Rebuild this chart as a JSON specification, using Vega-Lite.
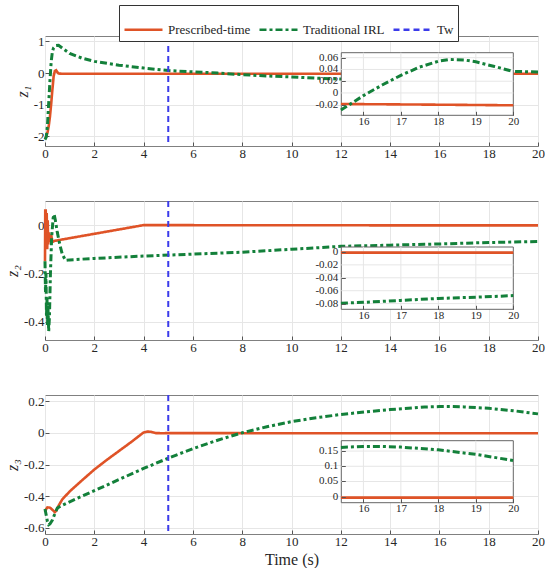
{
  "$schema": "https://vega.github.io/schema/vega-lite/v6.json",
  "padding": {"top": 4, "left": 3, "right": 0, "bottom": 0},
  "datasets": {
    "d": [
      {"p": "z1", "s": "Prescribed-time", "t": 0, "v": -2.05},
      {"p": "z1", "s": "Prescribed-time", "t": 0.05, "v": -2.0},
      {"p": "z1", "s": "Prescribed-time", "t": 0.1, "v": -1.88},
      {"p": "z1", "s": "Prescribed-time", "t": 0.15, "v": -1.68},
      {"p": "z1", "s": "Prescribed-time", "t": 0.2, "v": -1.38},
      {"p": "z1", "s": "Prescribed-time", "t": 0.25, "v": -0.98},
      {"p": "z1", "s": "Prescribed-time", "t": 0.3, "v": -0.52},
      {"p": "z1", "s": "Prescribed-time", "t": 0.35, "v": -0.1},
      {"p": "z1", "s": "Prescribed-time", "t": 0.4, "v": 0.07},
      {"p": "z1", "s": "Prescribed-time", "t": 0.45, "v": 0.09},
      {"p": "z1", "s": "Prescribed-time", "t": 0.5, "v": 0.03},
      {"p": "z1", "s": "Prescribed-time", "t": 0.55, "v": -0.015},
      {"p": "z1", "s": "Prescribed-time", "t": 0.7, "v": -0.02},
      {"p": "z1", "s": "Prescribed-time", "t": 2, "v": -0.02},
      {"p": "z1", "s": "Prescribed-time", "t": 5, "v": -0.02},
      {"p": "z1", "s": "Prescribed-time", "t": 10, "v": -0.019},
      {"p": "z1", "s": "Prescribed-time", "t": 15.4, "v": -0.0188},
      {"p": "z1", "s": "Prescribed-time", "t": 17, "v": -0.0195},
      {"p": "z1", "s": "Prescribed-time", "t": 18.5, "v": -0.0202},
      {"p": "z1", "s": "Prescribed-time", "t": 20, "v": -0.021},
      {"p": "z1", "s": "Traditional IRL", "t": 0, "v": -2.1},
      {"p": "z1", "s": "Traditional IRL", "t": 0.05, "v": -2.02},
      {"p": "z1", "s": "Traditional IRL", "t": 0.1, "v": -1.65},
      {"p": "z1", "s": "Traditional IRL", "t": 0.15, "v": -0.95},
      {"p": "z1", "s": "Traditional IRL", "t": 0.2, "v": -0.25},
      {"p": "z1", "s": "Traditional IRL", "t": 0.25, "v": 0.35},
      {"p": "z1", "s": "Traditional IRL", "t": 0.3, "v": 0.68},
      {"p": "z1", "s": "Traditional IRL", "t": 0.35, "v": 0.8},
      {"p": "z1", "s": "Traditional IRL", "t": 0.45, "v": 0.87},
      {"p": "z1", "s": "Traditional IRL", "t": 0.55, "v": 0.88},
      {"p": "z1", "s": "Traditional IRL", "t": 0.7, "v": 0.79},
      {"p": "z1", "s": "Traditional IRL", "t": 1, "v": 0.62},
      {"p": "z1", "s": "Traditional IRL", "t": 1.5, "v": 0.47},
      {"p": "z1", "s": "Traditional IRL", "t": 2, "v": 0.37},
      {"p": "z1", "s": "Traditional IRL", "t": 3, "v": 0.25},
      {"p": "z1", "s": "Traditional IRL", "t": 4, "v": 0.16},
      {"p": "z1", "s": "Traditional IRL", "t": 5, "v": 0.08},
      {"p": "z1", "s": "Traditional IRL", "t": 6, "v": 0.04},
      {"p": "z1", "s": "Traditional IRL", "t": 7, "v": 0.0},
      {"p": "z1", "s": "Traditional IRL", "t": 8, "v": -0.05},
      {"p": "z1", "s": "Traditional IRL", "t": 9, "v": -0.09},
      {"p": "z1", "s": "Traditional IRL", "t": 10, "v": -0.12},
      {"p": "z1", "s": "Traditional IRL", "t": 11, "v": -0.16},
      {"p": "z1", "s": "Traditional IRL", "t": 12, "v": -0.19},
      {"p": "z1", "s": "Traditional IRL", "t": 13, "v": -0.17},
      {"p": "z1", "s": "Traditional IRL", "t": 14, "v": -0.12},
      {"p": "z1", "s": "Traditional IRL", "t": 15, "v": -0.055},
      {"p": "z1", "s": "Traditional IRL", "t": 15.4, "v": -0.029},
      {"p": "z1", "s": "Traditional IRL", "t": 15.6, "v": -0.021},
      {"p": "z1", "s": "Traditional IRL", "t": 16, "v": -0.0045},
      {"p": "z1", "s": "Traditional IRL", "t": 16.5, "v": 0.0135},
      {"p": "z1", "s": "Traditional IRL", "t": 17, "v": 0.03},
      {"p": "z1", "s": "Traditional IRL", "t": 17.5, "v": 0.044},
      {"p": "z1", "s": "Traditional IRL", "t": 18, "v": 0.054},
      {"p": "z1", "s": "Traditional IRL", "t": 18.3, "v": 0.057},
      {"p": "z1", "s": "Traditional IRL", "t": 18.7, "v": 0.056},
      {"p": "z1", "s": "Traditional IRL", "t": 19, "v": 0.053},
      {"p": "z1", "s": "Traditional IRL", "t": 19.5, "v": 0.045},
      {"p": "z1", "s": "Traditional IRL", "t": 20, "v": 0.0366},
      {"p": "z2", "s": "Prescribed-time", "t": 0, "v": -0.15},
      {"p": "z2", "s": "Prescribed-time", "t": 0.01, "v": 0.06},
      {"p": "z2", "s": "Prescribed-time", "t": 0.03, "v": 0.06},
      {"p": "z2", "s": "Prescribed-time", "t": 0.05, "v": -0.08},
      {"p": "z2", "s": "Prescribed-time", "t": 0.07, "v": 0.05},
      {"p": "z2", "s": "Prescribed-time", "t": 0.09, "v": -0.1},
      {"p": "z2", "s": "Prescribed-time", "t": 0.11, "v": 0.02},
      {"p": "z2", "s": "Prescribed-time", "t": 0.13, "v": -0.08},
      {"p": "z2", "s": "Prescribed-time", "t": 0.16, "v": -0.03},
      {"p": "z2", "s": "Prescribed-time", "t": 0.2, "v": -0.07},
      {"p": "z2", "s": "Prescribed-time", "t": 0.25, "v": -0.04},
      {"p": "z2", "s": "Prescribed-time", "t": 0.3, "v": -0.07},
      {"p": "z2", "s": "Prescribed-time", "t": 0.4, "v": -0.065},
      {"p": "z2", "s": "Prescribed-time", "t": 1, "v": -0.054},
      {"p": "z2", "s": "Prescribed-time", "t": 2, "v": -0.036},
      {"p": "z2", "s": "Prescribed-time", "t": 3, "v": -0.018},
      {"p": "z2", "s": "Prescribed-time", "t": 4, "v": 0},
      {"p": "z2", "s": "Prescribed-time", "t": 15.4, "v": -0.001},
      {"p": "z2", "s": "Prescribed-time", "t": 20, "v": -0.001},
      {"p": "z2", "s": "Traditional IRL", "t": 0, "v": -0.15},
      {"p": "z2", "s": "Traditional IRL", "t": 0.02, "v": -0.28},
      {"p": "z2", "s": "Traditional IRL", "t": 0.04, "v": -0.2},
      {"p": "z2", "s": "Traditional IRL", "t": 0.06, "v": -0.38},
      {"p": "z2", "s": "Traditional IRL", "t": 0.08, "v": -0.3},
      {"p": "z2", "s": "Traditional IRL", "t": 0.1, "v": -0.42},
      {"p": "z2", "s": "Traditional IRL", "t": 0.12, "v": -0.34},
      {"p": "z2", "s": "Traditional IRL", "t": 0.15, "v": -0.44},
      {"p": "z2", "s": "Traditional IRL", "t": 0.18, "v": -0.38},
      {"p": "z2", "s": "Traditional IRL", "t": 0.22, "v": -0.2},
      {"p": "z2", "s": "Traditional IRL", "t": 0.27, "v": -0.05},
      {"p": "z2", "s": "Traditional IRL", "t": 0.33, "v": 0.03},
      {"p": "z2", "s": "Traditional IRL", "t": 0.37, "v": 0.045},
      {"p": "z2", "s": "Traditional IRL", "t": 0.42, "v": 0.02},
      {"p": "z2", "s": "Traditional IRL", "t": 0.5, "v": -0.03},
      {"p": "z2", "s": "Traditional IRL", "t": 0.6, "v": -0.08},
      {"p": "z2", "s": "Traditional IRL", "t": 0.7, "v": -0.12},
      {"p": "z2", "s": "Traditional IRL", "t": 0.83, "v": -0.146},
      {"p": "z2", "s": "Traditional IRL", "t": 1, "v": -0.144},
      {"p": "z2", "s": "Traditional IRL", "t": 2, "v": -0.138},
      {"p": "z2", "s": "Traditional IRL", "t": 4, "v": -0.128},
      {"p": "z2", "s": "Traditional IRL", "t": 6, "v": -0.12},
      {"p": "z2", "s": "Traditional IRL", "t": 8, "v": -0.112},
      {"p": "z2", "s": "Traditional IRL", "t": 10, "v": -0.1},
      {"p": "z2", "s": "Traditional IRL", "t": 12, "v": -0.088},
      {"p": "z2", "s": "Traditional IRL", "t": 14, "v": -0.083},
      {"p": "z2", "s": "Traditional IRL", "t": 15.4, "v": -0.0795},
      {"p": "z2", "s": "Traditional IRL", "t": 16, "v": -0.078},
      {"p": "z2", "s": "Traditional IRL", "t": 17, "v": -0.075},
      {"p": "z2", "s": "Traditional IRL", "t": 18, "v": -0.072},
      {"p": "z2", "s": "Traditional IRL", "t": 19, "v": -0.07},
      {"p": "z2", "s": "Traditional IRL", "t": 20, "v": -0.0676},
      {"p": "z3", "s": "Prescribed-time", "t": 0, "v": -0.5},
      {"p": "z3", "s": "Prescribed-time", "t": 0.05, "v": -0.48},
      {"p": "z3", "s": "Prescribed-time", "t": 0.1, "v": -0.47},
      {"p": "z3", "s": "Prescribed-time", "t": 0.2, "v": -0.472},
      {"p": "z3", "s": "Prescribed-time", "t": 0.3, "v": -0.485},
      {"p": "z3", "s": "Prescribed-time", "t": 0.4, "v": -0.5},
      {"p": "z3", "s": "Prescribed-time", "t": 0.45, "v": -0.492},
      {"p": "z3", "s": "Prescribed-time", "t": 0.55, "v": -0.46},
      {"p": "z3", "s": "Prescribed-time", "t": 0.7, "v": -0.42},
      {"p": "z3", "s": "Prescribed-time", "t": 1, "v": -0.37},
      {"p": "z3", "s": "Prescribed-time", "t": 1.5, "v": -0.3},
      {"p": "z3", "s": "Prescribed-time", "t": 2, "v": -0.232},
      {"p": "z3", "s": "Prescribed-time", "t": 2.5, "v": -0.172},
      {"p": "z3", "s": "Prescribed-time", "t": 3, "v": -0.115},
      {"p": "z3", "s": "Prescribed-time", "t": 3.5, "v": -0.058},
      {"p": "z3", "s": "Prescribed-time", "t": 4, "v": 0.002},
      {"p": "z3", "s": "Prescribed-time", "t": 4.15, "v": 0.008},
      {"p": "z3", "s": "Prescribed-time", "t": 4.3, "v": 0.006},
      {"p": "z3", "s": "Prescribed-time", "t": 4.5, "v": -0.002},
      {"p": "z3", "s": "Prescribed-time", "t": 4.8, "v": -0.003},
      {"p": "z3", "s": "Prescribed-time", "t": 5, "v": -0.002},
      {"p": "z3", "s": "Prescribed-time", "t": 10, "v": -0.003},
      {"p": "z3", "s": "Prescribed-time", "t": 15.4, "v": -0.003},
      {"p": "z3", "s": "Prescribed-time", "t": 20, "v": -0.003},
      {"p": "z3", "s": "Traditional IRL", "t": 0, "v": -0.48},
      {"p": "z3", "s": "Traditional IRL", "t": 0.05, "v": -0.52},
      {"p": "z3", "s": "Traditional IRL", "t": 0.1, "v": -0.56},
      {"p": "z3", "s": "Traditional IRL", "t": 0.15, "v": -0.58},
      {"p": "z3", "s": "Traditional IRL", "t": 0.2, "v": -0.575},
      {"p": "z3", "s": "Traditional IRL", "t": 0.3, "v": -0.55},
      {"p": "z3", "s": "Traditional IRL", "t": 0.4, "v": -0.51},
      {"p": "z3", "s": "Traditional IRL", "t": 0.5, "v": -0.475},
      {"p": "z3", "s": "Traditional IRL", "t": 0.6, "v": -0.465},
      {"p": "z3", "s": "Traditional IRL", "t": 1, "v": -0.435},
      {"p": "z3", "s": "Traditional IRL", "t": 2, "v": -0.365},
      {"p": "z3", "s": "Traditional IRL", "t": 3, "v": -0.295},
      {"p": "z3", "s": "Traditional IRL", "t": 4, "v": -0.225},
      {"p": "z3", "s": "Traditional IRL", "t": 5, "v": -0.16},
      {"p": "z3", "s": "Traditional IRL", "t": 6, "v": -0.1},
      {"p": "z3", "s": "Traditional IRL", "t": 7, "v": -0.047},
      {"p": "z3", "s": "Traditional IRL", "t": 8, "v": 0.0},
      {"p": "z3", "s": "Traditional IRL", "t": 9, "v": 0.038},
      {"p": "z3", "s": "Traditional IRL", "t": 10, "v": 0.07},
      {"p": "z3", "s": "Traditional IRL", "t": 11, "v": 0.095},
      {"p": "z3", "s": "Traditional IRL", "t": 12, "v": 0.115},
      {"p": "z3", "s": "Traditional IRL", "t": 13, "v": 0.132},
      {"p": "z3", "s": "Traditional IRL", "t": 14, "v": 0.146},
      {"p": "z3", "s": "Traditional IRL", "t": 15, "v": 0.157},
      {"p": "z3", "s": "Traditional IRL", "t": 15.4, "v": 0.162},
      {"p": "z3", "s": "Traditional IRL", "t": 16, "v": 0.165},
      {"p": "z3", "s": "Traditional IRL", "t": 16.5, "v": 0.165},
      {"p": "z3", "s": "Traditional IRL", "t": 17, "v": 0.163},
      {"p": "z3", "s": "Traditional IRL", "t": 18, "v": 0.154},
      {"p": "z3", "s": "Traditional IRL", "t": 19, "v": 0.139},
      {"p": "z3", "s": "Traditional IRL", "t": 20, "v": 0.119}
    ],
    "gx": [{"g": 16}, {"g": 17}, {"g": 18}, {"g": 19}],
    "gy1": [{"g": -0.02}, {"g": 0}, {"g": 0.02}, {"g": 0.04}, {"g": 0.06}],
    "gy2": [{"g": -0.08}, {"g": -0.06}, {"g": -0.04}, {"g": -0.02}, {"g": 0}],
    "gy3": [{"g": 0}, {"g": 0.05}, {"g": 0.1}, {"g": 0.15}]
  },
  "vconcat": [
    {
      "width": 493,
      "height": 110,
      "layer": [
        {
          "layer": [
            {
              "data": {"name": "d"},
              "transform": [{"filter": "datum.p == 'z1'"}],
              "mark": {"type": "line"},
              "encoding": {
                "x": {"field": "t", "type": "quantitative", "scale": {"domain": [0, 20], "nice": false}, "axis": {"values": [0, 2, 4, 6, 8, 10, 12, 14, 16, 18, 20], "title": null}},
                "y": {"field": "v", "type": "quantitative", "scale": {"domain": [-2.3, 1.17], "nice": false, "zero": false}, "axis": {"values": [-2, -1, 0, 1], "title": "z₁"}},
                "color": {"field": "s", "type": "nominal", "scale": {"domain": ["Prescribed-time", "Traditional IRL", "Tw"], "range": ["#DF5327", "#13803A", "#3B3BEA"]}},
                "strokeDash": {"field": "s", "type": "nominal", "scale": {"domain": ["Prescribed-time", "Traditional IRL", "Tw"], "range": [[1, 0], [7, 3, 3, 3], [6, 4]]}},
                "strokeWidth": {"field": "s", "type": "ordinal", "scale": {"domain": ["Prescribed-time", "Traditional IRL"], "range": [2.6, 3]}, "legend": null}
              }
            },
            {
              "data": {"values": [{}]},
              "mark": {"type": "rule", "strokeWidth": 2},
              "encoding": {"x": {"datum": 5}, "color": {"datum": "Tw"}, "strokeDash": {"datum": "Tw"}}
            }
          ]
        },
        {
          "layer": [
            {
              "data": {"values": [{}]},
              "mark": {"type": "rect", "fill": "white", "stroke": "#666", "strokeWidth": 1},
              "encoding": {
                "x": {"datum": 15.41, "type": "quantitative", "scale": {"domain": [15.41, 20], "range": [296.3, 468.3], "nice": false}, "axis": {"orient": "bottom", "offset": -30.7, "values": [16, 17, 18, 19, 20], "title": null, "grid": false, "labelFontSize": 11, "labelPadding": 4, "zindex": 1}},
                "x2": {"datum": 20},
                "y": {"datum": -0.038, "type": "quantitative", "scale": {"domain": [-0.038, 0.0685], "range": [79.3, 16.7], "nice": false, "zero": false}, "axis": {"orient": "left", "offset": -296.3, "values": [-0.02, 0, 0.02, 0.04, 0.06], "title": null, "grid": false, "labels": false, "zindex": 1}},
                "y2": {"datum": 0.0685}
              }
            },
            {
              "data": {"name": "gx"},
              "mark": {"type": "rule", "color": "#e6e6e6", "strokeWidth": 1},
              "encoding": {"x": {"field": "g", "type": "quantitative"}, "y": {"datum": -0.038}, "y2": {"datum": 0.0685}}
            },
            {
              "data": {"name": "gy1"},
              "mark": {"type": "rule", "color": "#e6e6e6", "strokeWidth": 1},
              "encoding": {"y": {"field": "g", "type": "quantitative"}, "x": {"datum": 15.41}, "x2": {"datum": 20}}
            },
            {
              "data": {"name": "gy1"},
              "mark": {"type": "text", "align": "right", "baseline": "middle", "dx": -3, "fontSize": 11, "font": "Liberation Serif", "color": "#262626"},
              "encoding": {"y": {"field": "g", "type": "quantitative"}, "x": {"datum": 15.41}, "text": {"field": "g", "type": "nominal"}}
            },
            {
              "data": {"name": "d"},
              "transform": [{"filter": "datum.p == 'z1' && datum.t >= 15.4"}],
              "mark": {"type": "line"},
              "encoding": {
                "x": {"field": "t", "type": "quantitative"},
                "y": {"field": "v", "type": "quantitative"},
                "color": {"field": "s", "type": "nominal"},
                "strokeDash": {"field": "s", "type": "nominal"},
                "strokeWidth": {"field": "s", "type": "ordinal", "legend": null}
              }
            }
          ]
        }
      ],
      "resolve": {"scale": {"x": "independent", "y": "independent"}, "axis": {"x": "independent", "y": "independent"}}
    },
    {
      "width": 493,
      "height": 139,
      "layer": [
        {
          "layer": [
            {
              "data": {"name": "d"},
              "transform": [{"filter": "datum.p == 'z2'"}],
              "mark": {"type": "line"},
              "encoding": {
                "x": {"field": "t", "type": "quantitative", "scale": {"domain": [0, 20], "nice": false}, "axis": {"values": [0, 2, 4, 6, 8, 10, 12, 14, 16, 18, 20], "title": null}},
                "y": {"field": "v", "type": "quantitative", "scale": {"domain": [-0.476, 0.1], "nice": false, "zero": false}, "axis": {"values": [-0.4, -0.2, 0], "title": "z₂"}},
                "color": {"field": "s", "type": "nominal"},
                "strokeDash": {"field": "s", "type": "nominal"},
                "strokeWidth": {"field": "s", "type": "ordinal", "legend": null}
              }
            },
            {
              "data": {"values": [{}]},
              "mark": {"type": "rule", "strokeWidth": 2},
              "encoding": {"x": {"datum": 5}, "color": {"datum": "Tw"}, "strokeDash": {"datum": "Tw"}}
            }
          ]
        },
        {
          "layer": [
            {
              "data": {"values": [{}]},
              "mark": {"type": "rect", "fill": "white", "stroke": "#666", "strokeWidth": 1},
              "encoding": {
                "x": {"datum": 15.41, "type": "quantitative", "scale": {"domain": [15.41, 20], "range": [296.3, 468.3], "nice": false}, "axis": {"orient": "bottom", "offset": -30.7, "values": [16, 17, 18, 19, 20], "title": null, "grid": false, "labelFontSize": 11, "labelPadding": 4, "zindex": 1}},
                "x2": {"datum": 20},
                "y": {"datum": -0.0888, "type": "quantitative", "scale": {"domain": [-0.0888, 0.0077], "range": [108.3, 46], "nice": false, "zero": false}, "axis": {"orient": "left", "offset": -296.3, "values": [-0.08, -0.06, -0.04, -0.02, 0], "title": null, "grid": false, "labels": false, "zindex": 1}},
                "y2": {"datum": 0.0077}
              }
            },
            {
              "data": {"name": "gx"},
              "mark": {"type": "rule", "color": "#e6e6e6", "strokeWidth": 1},
              "encoding": {"x": {"field": "g", "type": "quantitative"}, "y": {"datum": -0.0888}, "y2": {"datum": 0.0077}}
            },
            {
              "data": {"name": "gy2"},
              "mark": {"type": "rule", "color": "#e6e6e6", "strokeWidth": 1},
              "encoding": {"y": {"field": "g", "type": "quantitative"}, "x": {"datum": 15.41}, "x2": {"datum": 20}}
            },
            {
              "data": {"name": "gy2"},
              "mark": {"type": "text", "align": "right", "baseline": "middle", "dx": -3, "fontSize": 11, "font": "Liberation Serif", "color": "#262626"},
              "encoding": {"y": {"field": "g", "type": "quantitative"}, "x": {"datum": 15.41}, "text": {"field": "g", "type": "nominal"}}
            },
            {
              "data": {"name": "d"},
              "transform": [{"filter": "datum.p == 'z2' && datum.t >= 15.4"}],
              "mark": {"type": "line"},
              "encoding": {
                "x": {"field": "t", "type": "quantitative"},
                "y": {"field": "v", "type": "quantitative"},
                "color": {"field": "s", "type": "nominal"},
                "strokeDash": {"field": "s", "type": "nominal"},
                "strokeWidth": {"field": "s", "type": "ordinal", "legend": null}
              }
            }
          ]
        }
      ],
      "resolve": {"scale": {"x": "independent", "y": "independent"}, "axis": {"x": "independent", "y": "independent"}}
    },
    {
      "width": 493,
      "height": 139,
      "layer": [
        {
          "layer": [
            {
              "data": {"name": "d"},
              "transform": [{"filter": "datum.p == 'z3'"}],
              "mark": {"type": "line"},
              "encoding": {
                "x": {"field": "t", "type": "quantitative", "scale": {"domain": [0, 20], "nice": false}, "axis": {"values": [0, 2, 4, 6, 8, 10, 12, 14, 16, 18, 20], "title": "Time (s)", "titleFontSize": 16, "titlePadding": 3}},
                "y": {"field": "v", "type": "quantitative", "scale": {"domain": [-0.638, 0.238], "nice": false, "zero": false}, "axis": {"values": [-0.6, -0.4, -0.2, 0, 0.2], "title": "z₃"}},
                "color": {"field": "s", "type": "nominal"},
                "strokeDash": {"field": "s", "type": "nominal"},
                "strokeWidth": {"field": "s", "type": "ordinal", "legend": null}
              }
            },
            {
              "data": {"values": [{}]},
              "mark": {"type": "rule", "strokeWidth": 2},
              "encoding": {"x": {"datum": 5}, "color": {"datum": "Tw"}, "strokeDash": {"datum": "Tw"}}
            }
          ]
        },
        {
          "layer": [
            {
              "data": {"values": [{}]},
              "mark": {"type": "rect", "fill": "white", "stroke": "#666", "strokeWidth": 1},
              "encoding": {
                "x": {"datum": 15.41, "type": "quantitative", "scale": {"domain": [15.41, 20], "range": [296.3, 468.3], "nice": false}, "axis": {"orient": "bottom", "offset": -31.3, "values": [16, 17, 18, 19, 20], "title": null, "grid": false, "labelFontSize": 11, "labelPadding": 4, "zindex": 1}},
                "x2": {"datum": 20},
                "y": {"datum": -0.0197, "type": "quantitative", "scale": {"domain": [-0.0197, 0.184], "range": [107.7, 45.7], "nice": false, "zero": false}, "axis": {"orient": "left", "offset": -296.3, "values": [0, 0.05, 0.1, 0.15], "title": null, "grid": false, "labels": false, "zindex": 1}},
                "y2": {"datum": 0.184}
              }
            },
            {
              "data": {"name": "gx"},
              "mark": {"type": "rule", "color": "#e6e6e6", "strokeWidth": 1},
              "encoding": {"x": {"field": "g", "type": "quantitative"}, "y": {"datum": -0.0197}, "y2": {"datum": 0.184}}
            },
            {
              "data": {"name": "gy3"},
              "mark": {"type": "rule", "color": "#e6e6e6", "strokeWidth": 1},
              "encoding": {"y": {"field": "g", "type": "quantitative"}, "x": {"datum": 15.41}, "x2": {"datum": 20}}
            },
            {
              "data": {"name": "gy3"},
              "mark": {"type": "text", "align": "right", "baseline": "middle", "dx": -3, "fontSize": 11, "font": "Liberation Serif", "color": "#262626"},
              "encoding": {"y": {"field": "g", "type": "quantitative"}, "x": {"datum": 15.41}, "text": {"field": "g", "type": "nominal"}}
            },
            {
              "data": {"name": "d"},
              "transform": [{"filter": "datum.p == 'z3' && datum.t >= 15.4"}],
              "mark": {"type": "line"},
              "encoding": {
                "x": {"field": "t", "type": "quantitative"},
                "y": {"field": "v", "type": "quantitative"},
                "color": {"field": "s", "type": "nominal"},
                "strokeDash": {"field": "s", "type": "nominal"},
                "strokeWidth": {"field": "s", "type": "ordinal", "legend": null}
              }
            }
          ]
        }
      ],
      "resolve": {"scale": {"x": "independent", "y": "independent"}, "axis": {"x": "independent", "y": "independent"}}
    }
  ],
  "spacing": 55,
  "bounds": "flush",
  "resolve": {"scale": {"color": "shared", "strokeDash": "shared", "strokeWidth": "shared"}},
  "config": {
    "font": "Liberation Serif",
    "style": {"guide-label": {"font": "Liberation Serif"}, "guide-title": {"font": "Liberation Serif"}},
    "view": {"stroke": "#808080", "strokeWidth": 1},
    "axis": {
      "labelFont": "Liberation Serif",
      "labelFontSize": 13,
      "labelColor": "#262626",
      "labelFlush": false,
      "labelOverlap": false,
      "labelPadding": 5,
      "labelExpr": "'' + datum.value",
      "titleFont": "Liberation Serif",
      "titleColor": "#262626",
      "titleFontWeight": "normal",
      "titleFontSize": 16,
      "domain": false,
      "tickColor": "#555555",
      "tickSize": -4,
      "gridColor": "#e6e6e6"
    },
    "axisY": {"titleFontStyle": "italic", "titlePadding": 3},
    "legend": {
      "orient": "none",
      "legendX": 74,
      "legendY": -31,
      "direction": "horizontal",
      "title": null,
      "symbolType": "stroke",
      "symbolSize": 1444,
      "symbolStrokeWidth": 2.6,
      "labelFont": "Liberation Serif",
      "labelFontSize": 13,
      "labelColor": "#262626",
      "labelOffset": 4,
      "columnPadding": 3,
      "padding": 4,
      "strokeColor": "#333333",
      "fillColor": "white"
    }
  }
}
